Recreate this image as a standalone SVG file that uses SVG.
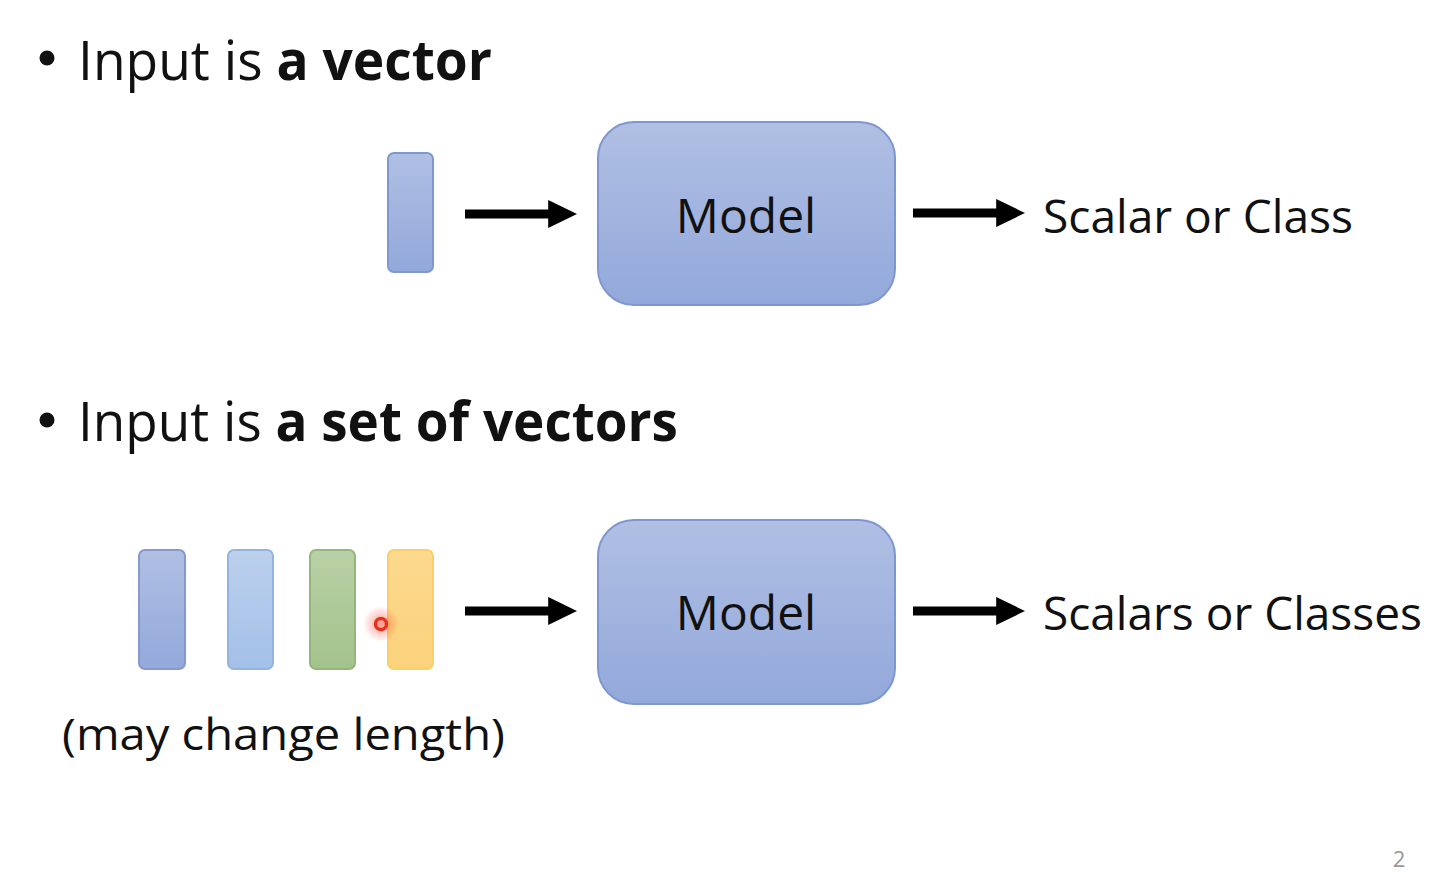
<svg xmlns="http://www.w3.org/2000/svg" width="1452" height="894" viewBox="0 0 1452 894">
<defs>
<linearGradient id="gBlue" x1="0" y1="0" x2="0" y2="1"><stop offset="0" stop-color="#b0bfe3"/><stop offset="1" stop-color="#93a9db"/></linearGradient>
<linearGradient id="gLight" x1="0" y1="0" x2="0" y2="1"><stop offset="0" stop-color="#bcd0ec"/><stop offset="1" stop-color="#a3c0e8"/></linearGradient>
<linearGradient id="gGreen" x1="0" y1="0" x2="0" y2="1"><stop offset="0" stop-color="#b9d0a6"/><stop offset="1" stop-color="#a3c38c"/></linearGradient>
<linearGradient id="gYellow" x1="0" y1="0" x2="0" y2="1"><stop offset="0" stop-color="#fcd98e"/><stop offset="1" stop-color="#fbd27c"/></linearGradient>
<radialGradient id="glow"><stop offset="0" stop-color="#ff4a3a" stop-opacity="0.55"/><stop offset="1" stop-color="#ff4a3a" stop-opacity="0"/></radialGradient>
<marker id="ah" markerWidth="3.3" markerHeight="3.2" refX="0.2" refY="1.55" orient="auto" markerUnits="strokeWidth"><path d="M0,0 L3.2,1.55 L0,3.1 Z" fill="#000"/></marker>
</defs>
<style>
text{font-family:"Open Sans","Liberation Sans",sans-serif;fill:#111}
.b{font-weight:bold}
.conn{stroke:#000;stroke-width:9;fill:none;marker-end:url(#ah)}
.model{fill:url(#gBlue);stroke:#7f97cf;stroke-width:2}
</style>
<rect width="1452" height="894" fill="#fff"/>
<g id="bullet1">
<circle cx="47" cy="58" r="7.5" fill="#111"/>
<text x="78" y="80" font-size="55" textLength="414" lengthAdjust="spacingAndGlyphs">Input is <tspan class="b">a vector</tspan></text>
</g>
<g id="vec1"><rect x="388" y="153" width="45" height="119" rx="6" fill="url(#gBlue)" stroke="#7f97cf" stroke-width="2"/></g>
<g id="model1"><rect class="model" x="598" y="122" width="297" height="183" rx="36"/>
<text x="746" y="233" font-size="48" text-anchor="middle">Model</text></g>
<g id="out1"><text x="1043" y="233" font-size="46" textLength="310" lengthAdjust="spacingAndGlyphs">Scalar or Class</text></g>
<g id="bullet2">
<circle cx="47" cy="420" r="7.5" fill="#111"/>
<text x="78" y="441" font-size="55" textLength="600" lengthAdjust="spacingAndGlyphs">Input is <tspan class="b">a set of vectors</tspan></text>
</g>
<g id="vecset">
<rect x="139" y="550" width="46" height="119" rx="6" fill="url(#gBlue)" stroke="#8599cf" stroke-width="2"/>
<rect x="228" y="550" width="45" height="119" rx="6" fill="url(#gLight)" stroke="#94b4e0" stroke-width="2"/>
<rect x="310" y="550" width="45" height="119" rx="6" fill="url(#gGreen)" stroke="#94b67d" stroke-width="2"/>
<rect x="388" y="550" width="45" height="119" rx="6" fill="url(#gYellow)" stroke="#f8cf6a" stroke-width="2"/>
<circle cx="381" cy="624" r="18" fill="url(#glow)"/>
<circle cx="381" cy="624" r="5.5" fill="none" stroke="#e8321e" stroke-width="3.5"/>
<text x="62" y="750" font-size="44" textLength="443" lengthAdjust="spacingAndGlyphs">(may change length)</text>
</g>
<g id="model2"><rect class="model" x="598" y="520" width="297" height="184" rx="36"/>
<text x="746" y="630" font-size="48" text-anchor="middle">Model</text></g>
<g id="out2"><text x="1043" y="630" font-size="46" textLength="379" lengthAdjust="spacingAndGlyphs">Scalars or Classes</text></g>
<g id="connectors">
<line class="conn" x1="465" y1="214" x2="550" y2="214"/>
<line class="conn" x1="913" y1="213" x2="998" y2="213"/>
<line class="conn" x1="465" y1="611" x2="550" y2="611"/>
<line class="conn" x1="913" y1="611" x2="998" y2="611"/>
</g>
<text x="1399" y="867" font-size="22" text-anchor="middle" style="fill:#999">2</text>
</svg>
